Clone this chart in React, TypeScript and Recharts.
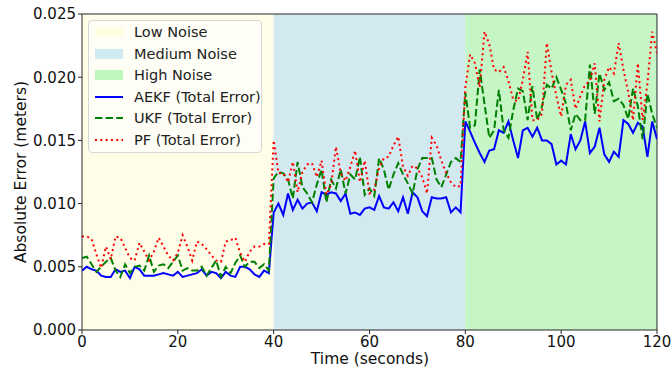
import React from 'react';
import { ComposedChart, Line, XAxis, YAxis, ReferenceArea, ReferenceLine } from 'recharts';

const time = [
  0, 1, 2, 3, 4, 5, 6, 7, 8, 9, 10, 11, 12, 13, 14, 15, 16, 17, 18, 19,
  20, 21, 22, 23, 24, 25, 26, 27, 28, 29, 30, 31, 32, 33, 34, 35, 36, 37, 38, 39,
  40, 41, 42, 43, 44, 45, 46, 47, 48, 49, 50, 51, 52, 53, 54, 55, 56, 57, 58, 59,
  60, 61, 62, 63, 64, 65, 66, 67, 68, 69, 70, 71, 72, 73, 74, 75, 76, 77, 78, 79,
  80, 81, 82, 83, 84, 85, 86, 87, 88, 89, 90, 91, 92, 93, 94, 95, 96, 97, 98, 99,
  100, 101, 102, 103, 104, 105, 106, 107, 108, 109, 110, 111, 112, 113, 114, 115, 116, 117, 118, 119, 120,
];

const aekfLow = [
  0.0047, 0.0050, 0.0048, 0.0047, 0.0043, 0.0042, 0.0042, 0.0048, 0.0046, 0.0047,
  0.0041, 0.0050, 0.0048, 0.0043, 0.0043, 0.0043, 0.0044, 0.0045, 0.0044, 0.0043,
  0.0046, 0.0042, 0.0043, 0.0044, 0.0045, 0.0048, 0.0043, 0.0046, 0.0045, 0.0041,
  0.0046, 0.0043, 0.0042, 0.0050, 0.0050, 0.0048, 0.0044, 0.0042, 0.0047, 0.0045,
];
const aekfMedium = [
  0.0093, 0.0100, 0.0091, 0.0108, 0.0095, 0.0103, 0.0096, 0.0100, 0.0101, 0.0094,
  0.0109, 0.0107, 0.0109, 0.0108, 0.0102, 0.0108, 0.0092, 0.0093, 0.0091, 0.0096,
  0.0097, 0.0095, 0.0106, 0.0097, 0.0096, 0.0101, 0.0094, 0.0105, 0.0092, 0.0109,
  0.0105, 0.0094, 0.0090, 0.0105, 0.0104, 0.0104, 0.0105, 0.0093, 0.0097, 0.0093,
];
const aekfHigh = [
  0.0165, 0.0157, 0.0148, 0.0140, 0.0133, 0.0142, 0.0143, 0.0158, 0.0156, 0.0165,
  0.0150, 0.0136, 0.0158, 0.0160, 0.0153, 0.0160, 0.0150, 0.0150, 0.0147, 0.0131,
  0.0134, 0.0131, 0.0155, 0.0143, 0.0150, 0.0165, 0.0140, 0.0145, 0.0160, 0.0139,
  0.0133, 0.0141, 0.0137, 0.0166, 0.0163, 0.0156, 0.0164, 0.0161, 0.0137, 0.0165,
  0.0151,
];

const ukfLow = [
  0.0057, 0.0058, 0.0052, 0.0046, 0.0050, 0.0054, 0.0057, 0.0047, 0.0042, 0.0052,
  0.0045, 0.0050, 0.0051, 0.0047, 0.0059, 0.0046, 0.0051, 0.0052, 0.0049, 0.0054,
  0.0059, 0.0047, 0.0049, 0.0047, 0.0047, 0.0050, 0.0043, 0.0049, 0.0055, 0.0042,
  0.0050, 0.0045, 0.0053, 0.0059, 0.0050, 0.0054, 0.0054, 0.0049, 0.0052, 0.0047,
];
const ukfMedium = [
  0.0120, 0.0125, 0.0124, 0.0119, 0.0104, 0.0133, 0.0113, 0.0108, 0.0101, 0.0115,
  0.0127, 0.0101, 0.0119, 0.0112, 0.0127, 0.0108, 0.0123, 0.0119, 0.0137, 0.0107,
  0.0112, 0.0106, 0.0136, 0.0127, 0.0111, 0.0123, 0.0132, 0.0123, 0.0116, 0.0108,
  0.0127, 0.0136, 0.0136, 0.0136, 0.0119, 0.0113, 0.0123, 0.0133, 0.0136, 0.0133,
];
const ukfHigh = [
  0.0188, 0.0160, 0.0162, 0.0206, 0.0179, 0.0152, 0.0158, 0.0190, 0.0158, 0.0152,
  0.0174, 0.0191, 0.0189, 0.0166, 0.0193, 0.0166, 0.0177, 0.0194, 0.0191, 0.0200,
  0.0190, 0.0179, 0.0158, 0.0171, 0.0166, 0.0166, 0.0210, 0.0171, 0.0203, 0.0190,
  0.0196, 0.0181, 0.0183, 0.0178, 0.0167, 0.0191, 0.0177, 0.0151, 0.0187, 0.0171,
  0.0160,
];

const pfLow = [
  0.0074, 0.0074, 0.0072, 0.0060, 0.0049, 0.0066, 0.0056, 0.0074, 0.0073, 0.0065,
  0.0057, 0.0055, 0.0069, 0.0062, 0.0055, 0.0062, 0.0073, 0.0066, 0.0059, 0.0055,
  0.0061, 0.0075, 0.0066, 0.0055, 0.0070, 0.0068, 0.0064, 0.0059, 0.0055, 0.0054,
  0.0070, 0.0071, 0.0073, 0.0061, 0.0054, 0.0062, 0.0066, 0.0066, 0.0068, 0.0068,
];
const pfMedium = [
  0.0150, 0.0124, 0.0124, 0.0117, 0.0133, 0.0109, 0.0125, 0.0131, 0.0132, 0.0121,
  0.0134, 0.0107, 0.0115, 0.0145, 0.0124, 0.0118, 0.0129, 0.0142, 0.0117, 0.0134,
  0.0108, 0.0111, 0.0128, 0.0136, 0.0137, 0.0146, 0.0153, 0.0129, 0.0122, 0.0130,
  0.0128, 0.0121, 0.0108, 0.0152, 0.0146, 0.0134, 0.0124, 0.0117, 0.0113, 0.0114,
];
const pfHigh = [
  0.0192, 0.0218, 0.0211, 0.0192, 0.0236, 0.0226, 0.0206, 0.0204, 0.0208, 0.0197,
  0.0182, 0.0181, 0.0198, 0.0220, 0.0166, 0.0166, 0.0171, 0.0227, 0.0204, 0.0185,
  0.0169, 0.0194, 0.0198, 0.0175, 0.0185, 0.0194, 0.0197, 0.0211, 0.0165, 0.0198,
  0.0208, 0.0203, 0.0227, 0.0206, 0.0188, 0.0166, 0.0211, 0.0166, 0.0195, 0.0236,
  0.0219,
];

const xTicks = [0, 20, 40, 60, 80, 100, 120];
const yTicks = [0, 0.005, 0.01, 0.015, 0.02, 0.025];

const regions = [
  { name: 'Low Noise', from: 0, to: 40, color: '#fdfde8' },
  { name: 'Medium Noise', from: 40, to: 80, color: '#d3e9f0' },
  { name: 'High Noise', from: 80, to: 120, color: '#c6f5c6' },
];

const seriesInfo = [
  { key: 'aekf', name: 'AEKF (Total Error)', color: '#0000ff', dash: undefined as string | undefined },
  { key: 'ukf', name: 'UKF (Total Error)', color: '#008000', dash: '7.4 3.2' },
  { key: 'pf', name: 'PF (Total Error)', color: '#ff0000', dash: '2 3.3' },
];

const aekf = [...aekfLow, ...aekfMedium, ...aekfHigh];
const ukf = [...ukfLow, ...ukfMedium, ...ukfHigh];
const pf = [...pfLow, ...pfMedium, ...pfHigh];

const data = time.map((t, i) => ({ t, aekf: aekf[i], ukf: ukf[i], pf: pf[i] }));

const FONT = '"DejaVu Sans", sans-serif';
const AXIS = '#262626';

export default function App() {
  return (
    <div style={{ position: 'absolute', left: 0, top: 0, width: 672, height: 374, background: '#fff', fontFamily: FONT }}>
      <ComposedChart width={672} height={374} data={data} margin={{ top: 14, right: 15, bottom: 0, left: 0 }}>
        {regions.map((r) => (
          <ReferenceArea key={r.name} x1={r.from} x2={r.to} y1={0} y2={0.025} fill={r.color} fillOpacity={1} stroke="none" ifOverflow="hidden" />
        ))}
        <XAxis
          dataKey="t"
          type="number"
          domain={[0, 120]}
          ticks={xTicks}
          height={44}
          tickSize={4}
          stroke={AXIS}
          tick={{ fill: '#111', fontSize: 15, fontFamily: FONT }}
          interval={0}
          allowDataOverflow
        />
        <YAxis
          type="number"
          domain={[0, 0.025]}
          ticks={yTicks}
          width={82}
          tickSize={4}
          stroke={AXIS}
          tick={{ fill: '#111', fontSize: 15, fontFamily: FONT }}
          tickFormatter={(v: number) => v.toFixed(3)}
          interval={0}
          allowDataOverflow
        />
        <ReferenceLine x={120} stroke={AXIS} strokeWidth={1} ifOverflow="extendDomain" />
        <ReferenceLine y={0.025} stroke={AXIS} strokeWidth={1} ifOverflow="extendDomain" />
        {seriesInfo.map((s) => (
          <Line
            key={s.key}
            type="linear"
            dataKey={s.key}
            name={s.name}
            stroke={s.color}
            strokeWidth={2}
            strokeDasharray={s.dash}
            dot={false}
            activeDot={false}
            isAnimationActive={false}
          />
        ))}
      </ComposedChart>

      <div
        style={{
          position: 'absolute',
          left: 88,
          top: 20,
          width: 174,
          height: 133,
          border: '1px solid #d6d6d6',
          borderRadius: 4,
          background: 'rgba(255,255,255,0.6)',
          boxSizing: 'border-box',
        }}
      >
        {regions.map((r, i) => (
          <div key={r.name} style={{ position: 'absolute', left: 6, top: 1 + i * 21.5, height: 20, display: 'flex', alignItems: 'center' }}>
            <div style={{ width: 28, height: 10, background: r.color, filter: 'saturate(1.2)' }} />
            <span style={{ marginLeft: 11, fontSize: 14.5, color: '#222', whiteSpace: 'nowrap' }}>{r.name}</span>
          </div>
        ))}
        {seriesInfo.map((s, i) => (
          <div key={s.key} style={{ position: 'absolute', left: 6, top: 1 + (i + 3) * 21.5, height: 20, display: 'flex', alignItems: 'center' }}>
            <svg width={28} height={10}>
              <line x1={0} y1={5} x2={28} y2={5} stroke={s.color} strokeWidth={2} strokeDasharray={s.dash} />
            </svg>
            <span style={{ marginLeft: 11, fontSize: 14.5, color: '#222', whiteSpace: 'nowrap' }}>{s.name}</span>
          </div>
        ))}
      </div>

      <div style={{ position: 'absolute', left: 370, top: 359, transform: 'translate(-50%, -50%)', fontSize: 15.5, color: '#111', whiteSpace: 'nowrap' }}>
        Time (seconds)
      </div>
      <div style={{ position: 'absolute', left: 21, top: 172, transform: 'translate(-50%, -50%) rotate(-90deg)', fontSize: 15.5, color: '#111', whiteSpace: 'nowrap' }}>
        Absolute Error (meters)
      </div>
    </div>
  );
}
